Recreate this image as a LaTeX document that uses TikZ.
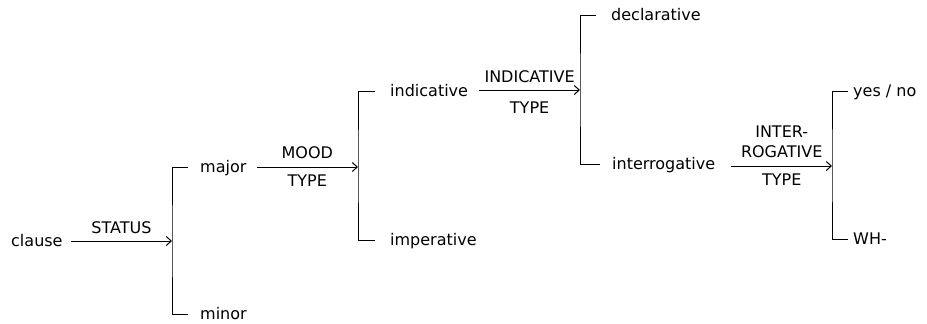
\documentclass[tikz,border=0pt]{standalone}
\usepackage{fontspec}
\setmainfont{DejaVu Sans}
\usetikzlibrary{arrows.meta}
\tikzset{
  txt/.style={anchor=base west, inner sep=0pt, font=\fontsize{16}{20}\selectfont},
  lbl/.style={inner sep=0pt, font=\fontsize{16}{20}\selectfont, align=center},
  arr/.style={line width=1pt, -{Straight Barb[length=5pt,width=9pt]}},
  brk/.style={line width=1pt},
}
\begin{document}
\begin{tikzpicture}[x=1pt,y=-1pt]
\useasboundingbox (0,0) rectangle (927,324);
% bracket coordinates
\coordinate (b1) at (172,241);
\coordinate (b2) at (358,167);
\coordinate (b3) at (580,90);
\coordinate (b4) at (832,166);
% texts (baseline = row + 5.5)
\node[txt] (clause) at (11,246.5) {clause};
\node[txt] (major) at (200,172.5) {major};
\node[txt] (minor) at (200,319.5) {minor};
\node[txt] (indic) at (390,96.5) {indicative};
\node[txt] (imper) at (390,245.5) {imperative};
\node[txt] (decl) at (611,20.5) {declarative};
\node[txt] (inter) at (612,169.5) {interrogative};
\node[txt] (yesno) at (853,96.5) {yes / no};
\node[txt] (wh) at (853,244.5) {WH-};
% arrows with labels
\draw[arr] ([xshift=8pt]clause.east |- b1) -- (b1)
  node[lbl, midway, above=7pt] {STATUS};
\draw[arr] ([xshift=10pt]major.east |- b2) -- (b2)
  node[lbl, midway, above=8pt] {MOOD}
  node[lbl, midway, below=7pt] {TYPE};
\draw[arr] ([xshift=11pt]indic.east |- b3) -- (b3)
  node[lbl, midway, above=7pt] {INDICATIVE}
  node[lbl, midway, below=11pt] {TYPE};
\draw[arr] ([xshift=16pt]inter.east |- b4) -- (b4)
  node[lbl, midway, above=8pt] {INTER-\\ROGATIVE}
  node[lbl, midway, below=7pt] {TYPE};
% brackets
\draw[brk] ([xshift=-12pt,yshift=5.5pt]major.base west) -| (b1) |- ([xshift=-12pt,yshift=5.5pt]minor.base west);
\draw[brk] ([xshift=-15pt,yshift=5.5pt]indic.base west) -| (b2) |- ([xshift=-15pt,yshift=5.5pt]imper.base west);
\draw[brk] ([xshift=-15pt,yshift=5.5pt]decl.base west) -| (b3) |- ([xshift=-12pt,yshift=5.5pt]inter.base west);
\draw[brk] ([xshift=-5pt,yshift=5.5pt]yesno.base west) -| (b4) |- ([xshift=-5pt,yshift=5.5pt]wh.base west);
\end{tikzpicture}
\end{document}
